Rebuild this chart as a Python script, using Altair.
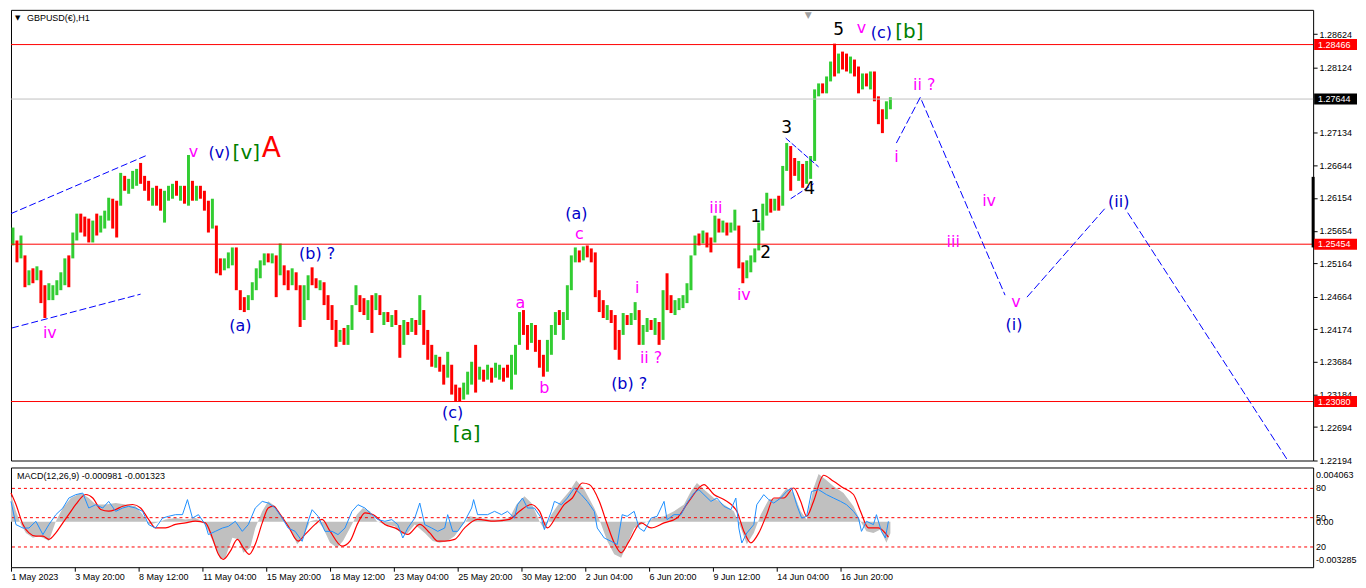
"""GBPUSD(€),H1 with an Elliott wave count and a MACD pane, drawn MT4-style in Altair.

The price pane and the MACD pane are two layered charts stacked with vconcat.
Bars are grouped four hours to a rule, which keeps the data lists readable.
"""

import json

import altair as alt
import pandas as pd

# MT4-ish palette
CANDLE_UP = "#32CD32"
CANDLE_DOWN = "#FF0000"
LEVEL_RED = "#FF0000"
BID_GREY = "#C0C0C0"
WAVE_MAGENTA = "#FF00FF"
WAVE_BLUE = "#0000C8"
WAVE_GREEN = "#008000"
WAVE_RED = "#FF0000"
PATH_BLUE = "#0000FF"
HIST_GREY = "#C0C0C0"
SIGNAL_RED = "#FF0000"
OSC_BLUE = "#1E90FF"

AXIS_FONT = "Liberation Sans"
AXIS_SIZE = 9
WAVE_FONT = "DejaVu Sans"

# the page is 1350px wide inside its margins: plot + 44px of price labels
W = 1306
H_MAIN = 452
H_MACD = 100

X_DOMAIN = [0, 1306]
PRICE_DOMAIN = [1.2219, 1.2899]
MACD_DOMAIN = [-0.00391, 0.00469]
PCT_DOMAIN = [-0.7, 101.4]

# --- price bars, 4 hourly bars per entry (high / low / direction) -------------
BAR_HIGH = [
    1.25705, 1.25510, 1.25585, 1.25285, 1.25060, 1.25090, 1.25120, 1.25060, 1.24835, 1.24865,
    1.24835, 1.24910, 1.25030, 1.25240, 1.25285, 1.25630, 1.25915, 1.25915, 1.25870, 1.25840,
    1.25810, 1.25915, 1.25885, 1.25960, 1.26155, 1.26140, 1.26110, 1.26530, 1.26485, 1.26440,
    1.26560, 1.26590, 1.26680, 1.26485, 1.26410, 1.26305, 1.26335, 1.26290, 1.26260, 1.26335,
    1.26365, 1.26410, 1.26335, 1.26335, 1.26800, 1.26410, 1.26335, 1.26335, 1.26260, 1.26110,
    1.26140, 1.25735, 1.25240, 1.25240, 1.25330, 1.25405, 1.25405, 1.24760, 1.24655, 1.24685,
    1.24880, 1.25090, 1.25210, 1.25315, 1.25315, 1.25315, 1.25285, 1.25465, 1.25135, 1.25060,
    1.25090, 1.25030, 1.24835, 1.24835, 1.24985, 1.25105, 1.24940, 1.24910, 1.24880, 1.24685,
    1.24535, 1.24310, 1.24160, 1.24190, 1.24235, 1.24535, 1.24835, 1.24685, 1.24640, 1.24610,
    1.24685, 1.24715, 1.24685, 1.24430, 1.24430, 1.24385, 1.24460, 1.24235, 1.24310, 1.24280,
    1.24340, 1.24310, 1.24685, 1.24460, 1.24160, 1.23935, 1.23785, 1.23755, 1.23635, 1.23830,
    1.23635, 1.23335, 1.23290, 1.23365, 1.23530, 1.23680, 1.23935, 1.23605, 1.23560, 1.23635,
    1.23590, 1.23665, 1.23635, 1.23590, 1.23635, 1.23785, 1.23935, 1.24430, 1.24460, 1.24235,
    1.24265, 1.24235, 1.24010, 1.23785, 1.24010, 1.24235, 1.24430, 1.24460, 1.24430, 1.24835,
    1.25285, 1.25405, 1.25360, 1.25420, 1.25435, 1.25390, 1.25330, 1.24760, 1.24610, 1.24535,
    1.24460, 1.24385, 1.24160, 1.24415, 1.24385, 1.24415, 1.24580, 1.24460, 1.24235, 1.24340,
    1.24310, 1.24340, 1.24280, 1.24760, 1.25015, 1.24685, 1.24610, 1.24640, 1.24685, 1.24865,
    1.25285, 1.25585, 1.25615, 1.25660, 1.25630, 1.25555, 1.25885, 1.25840, 1.25810, 1.25780,
    1.25780, 1.25975, 1.25735, 1.25180, 1.25210, 1.25285, 1.25390, 1.25780, 1.26065, 1.26230,
    1.26140, 1.26140, 1.26185, 1.26635, 1.26980, 1.26935, 1.26755, 1.26710, 1.26665, 1.26710,
    1.26785, 1.27790, 1.27880, 1.27880, 1.27985, 1.28210, 1.28480, 1.28330, 1.28360, 1.28330,
    1.28285, 1.28240, 1.28135, 1.28030, 1.28030, 1.28060, 1.28060, 1.27685, 1.27490, 1.27610,
    1.27670,
]
BAR_LOW = [
    1.25435, 1.25180, 1.25240, 1.24805, 1.24835, 1.24865, 1.24910, 1.24565, 1.24340, 1.24610,
    1.24610, 1.24685, 1.24760, 1.24835, 1.24805, 1.25240, 1.25510, 1.25630, 1.25570, 1.25480,
    1.25480, 1.25585, 1.25630, 1.25690, 1.25810, 1.25690, 1.25555, 1.26035, 1.26260, 1.26215,
    1.26290, 1.26335, 1.26365, 1.26260, 1.26110, 1.26035, 1.26035, 1.25960, 1.25780, 1.26110,
    1.26140, 1.26185, 1.26110, 1.26065, 1.26035, 1.26110, 1.26110, 1.26140, 1.25960, 1.25630,
    1.25690, 1.25015, 1.24985, 1.25060, 1.25090, 1.25135, 1.24760, 1.24460, 1.24430, 1.24460,
    1.24610, 1.24760, 1.24940, 1.25135, 1.25180, 1.25165, 1.24655, 1.24985, 1.24835, 1.24760,
    1.24835, 1.24760, 1.24205, 1.24310, 1.24610, 1.24835, 1.24790, 1.24760, 1.24535, 1.24310,
    1.24160, 1.23905, 1.23980, 1.23935, 1.23935, 1.24160, 1.24535, 1.24430, 1.24385, 1.24310,
    1.24115, 1.24460, 1.24385, 1.24235, 1.24280, 1.24205, 1.24235, 1.23740, 1.23935, 1.24085,
    1.24130, 1.24085, 1.24235, 1.23935, 1.23710, 1.23605, 1.23590, 1.23530, 1.23335, 1.23440,
    1.23185, 1.23080, 1.23080, 1.23110, 1.23185, 1.23335, 1.23215, 1.23410, 1.23380, 1.23410,
    1.23365, 1.23440, 1.23410, 1.23380, 1.23440, 1.23260, 1.23485, 1.23935, 1.24085, 1.23860,
    1.23965, 1.23830, 1.23590, 1.23455, 1.23530, 1.23785, 1.24085, 1.24235, 1.24010, 1.24310,
    1.24760, 1.25180, 1.25180, 1.25210, 1.25255, 1.25180, 1.24655, 1.24430, 1.24340, 1.24310,
    1.24265, 1.23860, 1.23710, 1.24085, 1.24235, 1.24235, 1.24310, 1.23935, 1.23935, 1.24130,
    1.24160, 1.24085, 1.23935, 1.24010, 1.24460, 1.24415, 1.24385, 1.24460, 1.24490, 1.24565,
    1.24760, 1.25285, 1.25435, 1.25465, 1.25405, 1.25330, 1.25480, 1.25630, 1.25630, 1.25585,
    1.25630, 1.25660, 1.25090, 1.24865, 1.24940, 1.25030, 1.25180, 1.25360, 1.25660, 1.25885,
    1.25930, 1.25960, 1.25960, 1.26035, 1.26560, 1.26260, 1.26485, 1.26410, 1.26305, 1.26365,
    1.26440, 1.26710, 1.27685, 1.27730, 1.27730, 1.27910, 1.27985, 1.28030, 1.28090, 1.28060,
    1.28030, 1.27985, 1.27730, 1.27790, 1.27835, 1.27790, 1.27610, 1.27265, 1.27130, 1.27340,
    1.27490,
]
BAR_UP = [
    1, 0, 1, 0, 1, 0, 1, 0, 0, 1,  1, 1, 1, 1, 0, 1, 1, 0, 0, 0,
    1, 0, 1, 1, 1, 0, 0, 1, 0, 1,  1, 1, 0, 0, 0, 1, 0, 0, 1, 1,
    1, 0, 1, 0, 1, 0, 1, 0, 0, 0,  1, 0, 0, 1, 1, 1, 0, 0, 0, 1,
    1, 1, 1, 1, 0, 1, 0, 1, 0, 0,  1, 0, 0, 1, 1, 0, 0, 1, 0, 0,
    0, 0, 1, 0, 1, 1, 1, 0, 0, 1,  0, 1, 0, 1, 0, 1, 0, 0, 1, 0,
    1, 0, 1, 0, 0, 0, 1, 0, 0, 1,  0, 0, 0, 1, 1, 1, 0, 1, 0, 1,
    0, 1, 1, 0, 0, 1, 1, 1, 0, 0,  1, 0, 0, 0, 1, 1, 1, 0, 1, 1,
    1, 1, 0, 1, 0, 0, 0, 0, 0, 1,  0, 0, 0, 1, 0, 1, 1, 0, 1, 1,
    0, 1, 0, 1, 0, 0, 1, 1, 1, 1,  1, 1, 0, 1, 0, 0, 1, 0, 1, 0,
    1, 1, 0, 0, 1, 1, 1, 1, 1, 1,  0, 1, 0, 1, 1, 0, 0, 1, 0, 1,
    1, 1, 1, 0, 1, 1, 0, 1, 0, 0,  1, 0, 0, 1, 0, 1, 0, 0, 0, 1,
    1,
]

# horizontal levels and right-hand price scale
RED_LEVELS = [1.28466, 1.25454, 1.23080]
BID = [1.27644]
PRICE_TICKS = [1.28624, 1.28124, 1.27134, 1.26644, 1.26154, 1.25654, 1.25164,
               1.24664, 1.24174, 1.23684, 1.23184, 1.22694, 1.22194]
SCALE_MARK = [1.26470, 1.25405]

# time axis: one label every 64 hourly bars
DATE_TICKS = [0, 64, 128, 192, 256, 320, 384, 448, 512, 576, 640, 704, 768, 832]
DATE_LABELS = ["1 May 2023", "3 May 20:00", "8 May 12:00", "11 May 04:00", "15 May 20:00",
               "18 May 12:00", "23 May 04:00", "25 May 20:00", "30 May 12:00", "2 Jun 04:00",
               "6 Jun 20:00", "9 Jun 12:00", "14 Jun 04:00", "16 Jun 20:00"]

# wave labels (bar index, price)
MAGENTA_TEXT = ["iv", "v", "a", "b", "c", "i", "ii ?", "iii", "iv", "v", "i", "ii ?", "iv", "iii", "v"]
MAGENTA_BAR = [39, 183, 511, 535, 570, 628, 642, 707, 735, 853, 888, 916, 981, 945, 1008]
MAGENTA_P = [1.24115, 1.26845, 1.24565, 1.23290, 1.25615, 1.24790, 1.23740, 1.26005,
             1.24685, 1.28720, 1.26770, 1.27850, 1.26110, 1.25480, 1.24580]
BLUE_TEXT = ["(v)", "(a)", "(b) ?", "(c)", "(a)", "(b) ?", "(c)", "(i)", "(ii)"]
BLUE_BAR = [209, 230, 307, 443, 567, 620, 873, 1006, 1111]
BLUE_P = [1.26830, 1.24220, 1.25300, 1.22900, 1.25915, 1.23350, 1.28645, 1.24235, 1.26095]
GREEN_TEXT = ["[v]", "[a]", "[b]"]
GREEN_BAR = [236, 457, 901]
GREEN_P = [1.26830, 1.22585, 1.28660]
BLACK_TEXT = ["1", "2", "3", "4", "5"]
BLACK_BAR = [747, 757, 778, 801, 830]
BLACK_P = [1.25870, 1.25315, 1.27205, 1.26290, 1.28690]
RED_TEXT = ["A"]
RED_BAR = [261]
RED_P = [1.26890]

# trend channel, triangle and projected path
CHAN_UP_BAR, CHAN_UP_P = [0, 137], [1.25915, 1.26800]
CHAN_LO_BAR, CHAN_LO_P = [1, 130], [1.24190, 1.24700]
TRI_UP_BAR, TRI_UP_P = [777, 810], [1.27055, 1.26620]
TRI_LO_BAR, TRI_LO_P = [782, 805], [1.26140, 1.26365]
PROJ_A_BAR, PROJ_A_P = [888, 912, 997], [1.26980, 1.27670, 1.24685]
PROJ_B_BAR, PROJ_B_P = [1019, 1097], [1.24655, 1.25990]
PROJ_C_BAR, PROJ_C_P = [1120, 1281], [1.25930, 1.22180]

# --- MACD pane ---------------------------------------------------------------
HIST_BAR = [
    0, 5, 10, 15, 22, 28, 35, 38, 45, 52, 60, 70, 78, 85, 95, 105, 115, 125, 132, 138,
    145, 155, 165, 175, 185, 192, 198, 205, 210, 215, 222, 228, 233, 240, 245, 252, 258, 265, 272, 280,
    287, 293, 300, 307, 313, 320, 327, 333, 340, 347, 353, 360, 367, 375, 385, 392, 398, 405, 415, 423,
    430, 438, 445, 452, 460, 470, 480, 490, 500, 507, 515, 522, 530, 535, 542, 550, 560, 567, 575, 585,
    592, 598, 605, 612, 618, 625, 635, 645, 655, 665, 675, 682, 688, 695, 705, 715, 725, 732, 738, 745,
    752, 760, 770, 778, 785, 792, 798, 805, 810, 817, 825, 835, 845, 852, 858, 865, 872, 878, 882,
]
HIST_VAL = [
    0.00236, 0.00092, -0.00022, -0.00095, -0.00138, -0.00123, -0.00151, -0.00166, 0.00006, 0.0012,
    0.00206, 0.00249, 0.00206, 0.0015, 0.0015, 0.00163, 0.0015, 0.00135, 0.00064, -0.00022,
    -0.00009, 0.00021, 0.00034, 0.00021, 0.00034, 0.00006, -0.0008, -0.00224, -0.00323, -0.0031,
    -0.00138, -0.00151, -0.00267, -0.00224, -0.00052, 0.00092, 0.00178, 0.00135, 0.00034, -0.00065,
    -0.00194, -0.00138, 0.00006, 0.00021, -0.00052, -0.00181, -0.00224, -0.00166, -0.00052, 0.00064,
    0.0012, 0.00092, 0.00006, -0.00022, -0.00037, -0.00108, -0.00095, -0.00022, -0.00095, -0.00166,
    -0.00181, -0.00166, -0.00123, -0.00037, 0.00049, 0.00034, 0.00021, 0.00021, 0.00034, 0.0015,
    0.00221, 0.00163, 0.00006, -0.00065, 0.00064, 0.00163, 0.00264, 0.00356, 0.00279, 0.0012,
    -0.00022, -0.00166, -0.0028, -0.0031, -0.00194, -0.00052, -0.00009, 0.00034, 0.00049, 0.00092,
    0.0015, 0.00264, 0.00335, 0.00279, 0.00206, 0.0015, 0.00092, -0.00052, -0.00194, -0.00095,
    0.00064, 0.00193, 0.00206, 0.00292, 0.00249, 0.00092, 0.00021, 0.00292, 0.00413, 0.00365,
    0.00307, 0.00249, 0.00135, 0.00006, -0.0008, -0.00095, -0.00065, -0.00181, -0.00098,
]
SIGNAL_BAR = [
    0, 5, 12, 18, 25, 32, 38, 45, 52, 58, 65, 75, 82, 90, 98, 105, 112, 122, 130, 138,
    145, 155, 165, 175, 185, 195, 202, 208, 213, 220, 227, 233, 239, 245, 252, 258, 263, 270, 278, 288,
    295, 305, 312, 320, 332, 340, 348, 355, 363, 375, 385, 398, 410, 420, 428, 435, 445, 455, 468, 485,
    500, 510, 522, 530, 538, 547, 555, 563, 573, 580, 590, 598, 605, 612, 620, 632, 642, 655, 668, 680,
    695, 705, 715, 728, 735, 742, 750, 758, 765, 775, 785, 792, 798, 805, 815, 825, 835, 845, 852, 860,
    870, 880,
]
SIGNAL_VAL = [
    0.00249, 0.0015, -0.00022, -0.00095, -0.00123, -0.00123, -0.00151, -0.00095, -0.00009, 0.00064,
    0.0015, 0.00236, 0.00206, 0.00107, 0.00092, 0.00107, 0.00135, 0.0015, 0.0012, 0.00021,
    -0.00052, -0.00052, -0.00022, -0.00009, 0.00006, -0.00009, -0.00138, -0.0028, -0.00323, -0.00253,
    -0.00151, -0.00224, -0.0028, -0.00194, -0.00009, 0.0012, 0.00135, 0.00064, -0.00037, -0.00166,
    -0.00108, -0.00022, 0.00021, -0.0008, -0.00209, -0.00166, -0.00009, 0.00078, 0.00064, -0.00022,
    -0.00052, -0.00108, -0.00022, -0.00095, -0.00166, -0.00166, -0.00151, -0.00052, 0.00021, 0.00006,
    0.00021, 0.00092, 0.0015, 0.00092, -0.00052, 0.00049, 0.0015, 0.00206, 0.00335, 0.00322,
    0.00178, -0.00022, -0.00181, -0.00267, -0.00166, -0.00009, -0.00052, -0.00009, 0.00034, 0.00178,
    0.00322, 0.00236, 0.00193, 0.00092, -0.0008, -0.00181, -0.00095, 0.00064, 0.00206, 0.00206,
    0.00292, 0.00178, 0.00049, 0.00178, 0.00402, 0.0035, 0.00292, 0.00236, 0.00092, -0.00052,
    -0.00052, -0.00132,
]
OSC_BAR = [
    0, 5, 12, 18, 25, 32, 38, 45, 52, 58, 65, 72, 78, 85, 92, 98, 105, 112, 118, 125,
    132, 138, 145, 152, 158, 165, 172, 177, 182, 188, 195, 198, 205, 212, 218, 225, 232, 238, 245, 252,
    258, 265, 272, 278, 285, 292, 298, 302, 308, 315, 322, 328, 335, 342, 348, 355, 362, 368, 375, 382,
    388, 393, 398, 405, 410, 415, 422, 428, 435, 438, 443,
    448, 455, 462, 464, 468, 478, 485, 492, 498, 505, 508, 513, 518, 525, 532, 535, 542, 545, 552, 558,
    565, 572, 578, 585, 588, 595, 602, 608, 613, 618, 625, 630, 635, 642, 648, 655, 658, 665, 672, 678,
    685, 690, 695, 702, 708, 715, 722, 727, 730, 733, 738, 745, 748, 755, 760, 765, 772, 778, 783, 788,
    793, 798, 803, 810, 818, 825, 832, 838, 845, 850, 853, 858, 865, 868, 873, 877, 880,
]
OSC_VAL = [
    66.7, 42.9, 39.4, 39.4, 46.3, 32.7, 42.9, 53.1, 59.9, 70.1, 73.6, 75.2, 59.9, 63.3, 59.9, 66.7, 56.5, 59.9, 61.6, 59.9,
    56.5, 42.9, 39.4, 49.6, 51.4, 53.1, 53.1, 68.5, 49.6, 53.1, 42.9, 32.7, 36.0, 39.4, 41.1, 46.3, 36.0, 42.9, 59.9, 66.7,
    65.0, 59.9, 49.6, 39.4, 36.0, 25.8, 46.3, 58.2, 51.4, 36.0, 36.0, 32.7, 39.4, 56.5, 63.3, 59.9, 53.1, 48.0, 46.3, 48.0,
    42.9, 29.2, 39.4, 49.6, 65.0, 42.9, 39.4, 36.0, 39.4, 53.1, 36.0,
    36.0, 46.3, 59.9, 68.5, 53.1, 53.1, 56.5, 53.1, 56.5, 49.6, 63.3, 70.1, 59.9, 59.9, 49.6, 37.8, 56.5, 66.7, 63.3, 70.1,
    80.3, 73.6, 66.7, 56.5, 39.4, 29.2, 25.8, 22.5, 53.1, 51.4, 56.5, 39.4, 36.0, 49.6, 51.4, 66.7, 48.0, 53.1, 53.1, 65.0,
    75.2, 78.7, 73.6, 66.7, 70.1, 61.6, 58.2, 70.1, 39.4, 24.1, 34.3, 42.9, 63.3, 73.6, 68.5, 65.0, 70.1, 76.9, 80.3, 63.3,
    49.6, 51.4, 76.9, 78.7, 73.6, 70.1, 66.7, 63.3, 56.5, 49.6, 36.0, 46.3, 42.9, 53.1, 36.0, 29.2, 46.3,
]
PCT_LEVELS = [80, 50, 20]
MACD_SCALE_VALUES = [0.004063, 0.0, -0.003285]
MACD_SCALE_TEXT = ["0.004063", "0.00", "-0.003285"]

DATE_AXIS = alt.Axis(
    values=DATE_TICKS,
    labelExpr=f"{json.dumps(DATE_LABELS)}[indexof({json.dumps(DATE_TICKS)}, datum.value)]",
    orient="bottom", tickSize=4, tickColor="black", domain=False, grid=False,
    labelAlign="left", labelBaseline="top", labelPadding=1, labelFont=AXIS_FONT,
    labelFontSize=AXIS_SIZE, labelColor="black", labelFlush=False, labelOverlap=False,
)
PRICE_AXIS = alt.Axis(
    orient="right", values=PRICE_TICKS, format=".5f", tickSize=4, tickColor="black",
    domain=False, grid=False, labelFont=AXIS_FONT, labelFontSize=AXIS_SIZE, labelColor="black",
    labelPadding=2, labelFlush=False, labelOverlap=False,
)


def _x(axis=None):
    return alt.X("bar:Q", scale=alt.Scale(domain=X_DOMAIN, nice=False, zero=False), axis=axis, title=None)


def _price(field="p"):
    return alt.Y(f"{field}:Q", scale=alt.Scale(domain=PRICE_DOMAIN, nice=False, zero=False),
                 axis=PRICE_AXIS, title=None)


def _macd(field="v"):
    return alt.Y(f"{field}:Q", scale=alt.Scale(domain=MACD_DOMAIN, nice=False, zero=False), axis=None, title=None)


def _pct(field="pct"):
    return alt.Y(f"{field}:Q", scale=alt.Scale(domain=PCT_DOMAIN, nice=False, zero=False), axis=None, title=None)


def _static_text(text, x, y, size=AXIS_SIZE, color="black", font=AXIS_FONT):
    return alt.Chart(pd.DataFrame({"t": [text]})).mark_text(
        align="left", baseline="middle", font=font, fontSize=size, color=color
    ).encode(x=alt.value(x), y=alt.value(y), text="t:N")


def _path(bars, prices, dash, width=1.0):
    df = pd.DataFrame({"bar": bars, "p": prices})
    return alt.Chart(df).mark_line(color=PATH_BLUE, strokeWidth=width, strokeDash=dash, clip=True).encode(
        x=_x(), y=_price())


def _waves(texts, bars, prices, color, size):
    df = pd.DataFrame({"t": texts, "bar": bars, "p": prices})
    return alt.Chart(df).mark_text(color=color, fontSize=size, font=WAVE_FONT,
                                   align="center", baseline="middle").encode(x=_x(), y=_price(), text="t:N")


def _tag(levels, fill):
    df = pd.DataFrame({"p": levels})
    box = alt.Chart(df).mark_rect(color=fill, yOffset=-5.5, y2Offset=5.5).encode(
        x=alt.value(W + 1), x2=alt.value(W + 44), y=_price(), y2="p:Q")
    txt = alt.Chart(df).mark_text(align="left", baseline="middle", color="white",
                                  font=AXIS_FONT, fontSize=AXIS_SIZE).encode(
        x=alt.value(W + 5), y=_price(), text=alt.Text("p:Q", format=".5f"))
    return box + txt


def price_pane() -> alt.LayerChart:
    bars = pd.DataFrame({
        "bar": [4 * i + 2 for i in range(len(BAR_HIGH))],
        "hi": BAR_HIGH, "lo": BAR_LOW,
        "dir": ["up" if u else "down" for u in BAR_UP],
    })
    candles = alt.Chart(bars).mark_rule(strokeWidth=3).encode(
        x=_x(), y=_price("hi"), y2="lo:Q",
        color=alt.Color("dir:N", scale=alt.Scale(domain=["up", "down"], range=[CANDLE_UP, CANDLE_DOWN]),
                        legend=None),
    )
    red_lv = alt.Chart(pd.DataFrame({"p": RED_LEVELS})).mark_rule(color=LEVEL_RED, strokeWidth=1).encode(
        y=_price())
    bid_lv = alt.Chart(pd.DataFrame({"p": BID})).mark_rule(color=BID_GREY, strokeWidth=1).encode(y=_price())
    scale_mark = alt.Chart(pd.DataFrame({"p": [SCALE_MARK[0]], "p2": [SCALE_MARK[1]]})).mark_rule(
        color="black", strokeWidth=3).encode(x=alt.value(W), y=_price(), y2="p2:Q")

    lines = [
        _path(CHAN_UP_BAR, CHAN_UP_P, [7, 3]),
        _path(CHAN_LO_BAR, CHAN_LO_P, [7, 3]),
        _path(TRI_UP_BAR, TRI_UP_P, [6, 2]),
        _path(TRI_LO_BAR, TRI_LO_P, [6, 2]),
        _path(PROJ_A_BAR, PROJ_A_P, [8, 3]),
        _path(PROJ_B_BAR, PROJ_B_P, [8, 3]),
        _path(PROJ_C_BAR, PROJ_C_P, [8, 3]),
    ]
    waves = [
        _waves(MAGENTA_TEXT, MAGENTA_BAR, MAGENTA_P, WAVE_MAGENTA, 16),
        _waves(BLUE_TEXT, BLUE_BAR, BLUE_P, WAVE_BLUE, 16),
        _waves(GREEN_TEXT, GREEN_BAR, GREEN_P, WAVE_GREEN, 20),
        _waves(BLACK_TEXT, BLACK_BAR, BLACK_P, "black", 17),
        _waves(RED_TEXT, RED_BAR, RED_P, WAVE_RED, 28),
    ]
    header = [
        _static_text("▼", 4, 8, size=7, font=WAVE_FONT),
        _static_text("GBPUSD(€),H1", 16, 8),
        _static_text("▼", 796, 5, size=9, color="#A0A0A0", font=WAVE_FONT),
    ]
    layers = [candles, red_lv, bid_lv, *lines, *waves, scale_mark,
              _tag(RED_LEVELS, LEVEL_RED), _tag(BID, "black"), *header]
    return alt.layer(*layers).properties(width=W, height=H_MAIN)


def macd_pane() -> alt.LayerChart:
    hist = alt.Chart(pd.DataFrame({"bar": HIST_BAR, "v": HIST_VAL})).mark_area(
        color=HIST_GREY, opacity=1).encode(x=_x(DATE_AXIS), y=_macd(), y2=alt.datum(0))
    levels = alt.Chart(pd.DataFrame({"pct": PCT_LEVELS})).mark_rule(
        color=LEVEL_RED, strokeDash=[3, 3], strokeWidth=1).encode(y=_pct())
    signal = alt.Chart(pd.DataFrame({"bar": SIGNAL_BAR, "v": SIGNAL_VAL})).mark_line(
        color=SIGNAL_RED, strokeWidth=1.2, interpolate="monotone").encode(x=_x(DATE_AXIS), y=_macd())
    osc = alt.Chart(pd.DataFrame({"bar": OSC_BAR, "pct": OSC_VAL})).mark_line(
        color=OSC_BLUE, strokeWidth=1).encode(x=_x(DATE_AXIS), y=_pct())
    macd_lab = alt.Chart(pd.DataFrame({"v": MACD_SCALE_VALUES, "t": MACD_SCALE_TEXT})).mark_text(
        align="left", baseline="middle", font=AXIS_FONT, fontSize=AXIS_SIZE, color="black").encode(
        x=alt.value(W + 3), y=_macd(), text="t:N")
    pct_lab = alt.Chart(pd.DataFrame({"pct": PCT_LEVELS})).mark_text(
        align="left", baseline="middle", font=AXIS_FONT, fontSize=AXIS_SIZE, color="black").encode(
        x=alt.value(W + 3), y=_pct(), text="pct:Q")
    title = _static_text("MACD(12,26,9) -0.000981 -0.001323", 6, 9)
    return alt.layer(hist, levels, signal, osc, macd_lab, pct_lab, title).resolve_scale(
        y="independent").properties(width=W, height=H_MACD)


# spacing 0: the lowest price label already hangs ~4px below the price pane
chart = alt.vconcat(price_pane(), macd_pane(), spacing=0).properties(padding=0).configure_view(
    stroke="black", strokeWidth=1)

chart.save("out.html", embed_options={"renderer": "svg", "actions": False})
